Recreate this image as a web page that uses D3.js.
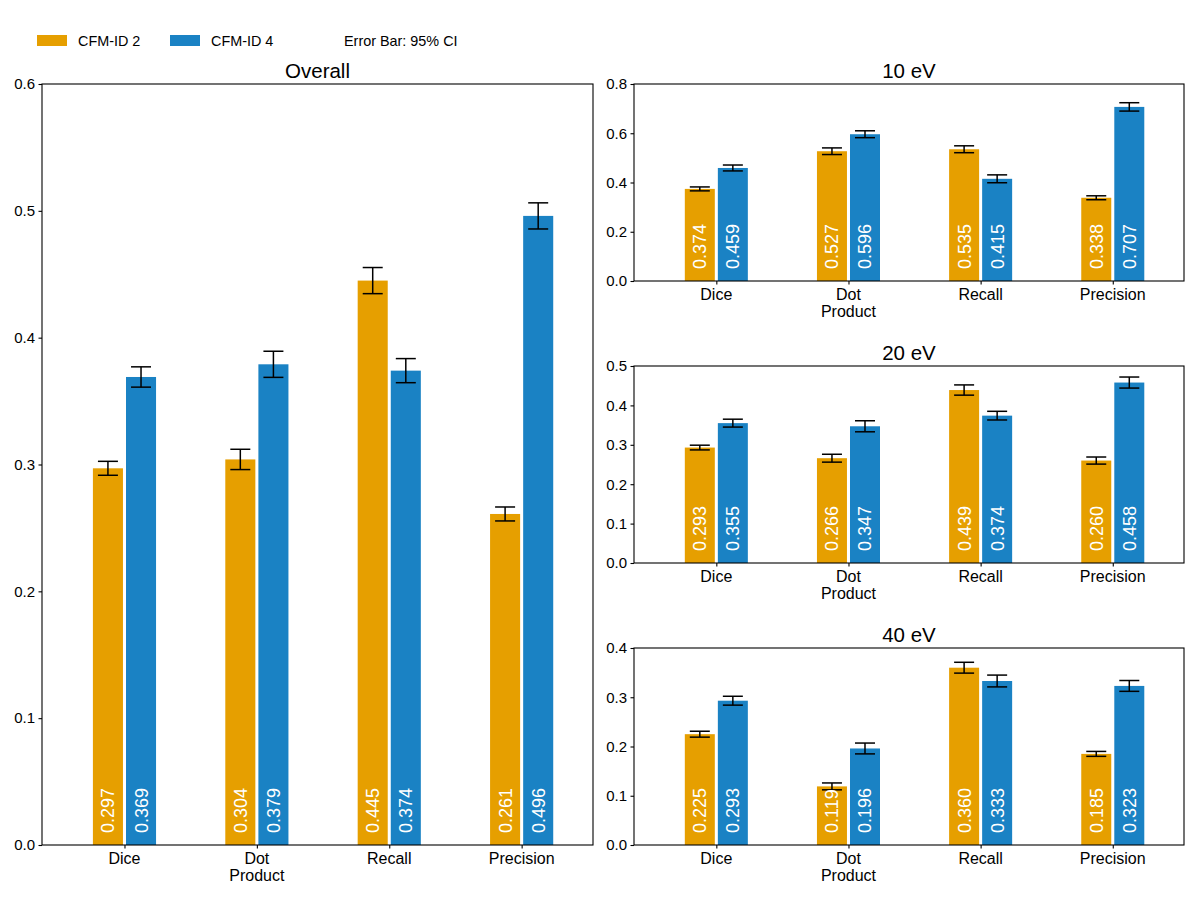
<!DOCTYPE html>
<html>
<head>
<meta charset="utf-8">
<script src="https://cdn.jsdelivr.net/npm/d3@7"></script>
<style>
  body { margin: 0; background: #fff; }
  svg { display: block; font-family: "Liberation Sans", Arial, sans-serif; }
</style>
</head>
<body>
<svg id="chart" width="1200" height="900"></svg>
<script>
// ---------------- data ----------------
const categories = [["Dice"], ["Dot", "Product"], ["Recall"], ["Precision"]];
const seriesNames = ["CFM-ID 2", "CFM-ID 4"];
const seriesColors = ["#E69F00", "#1A82C4"];
const legendNote = "Error Bar: 95% CI";

const panelTitles = ["Overall", "10 eV", "20 eV", "40 eV"];
const panelYMax = [0.6, 0.8, 0.5, 0.4];
const panelYTicks = [
  [0.0, 0.1, 0.2, 0.3, 0.4, 0.5, 0.6],
  [0.0, 0.2, 0.4, 0.6, 0.8],
  [0.0, 0.1, 0.2, 0.3, 0.4, 0.5],
  [0.0, 0.1, 0.2, 0.3, 0.4]
];

// values: [CFM-ID 2, CFM-ID 4] per panel
const overallCfm2 = [0.297, 0.304, 0.445, 0.261];
const overallCfm4 = [0.369, 0.379, 0.374, 0.496];
const ev10Cfm2 = [0.374, 0.527, 0.535, 0.338];
const ev10Cfm4 = [0.459, 0.596, 0.415, 0.707];
const ev20Cfm2 = [0.293, 0.266, 0.439, 0.260];
const ev20Cfm4 = [0.355, 0.347, 0.374, 0.458];
const ev40Cfm2 = [0.225, 0.119, 0.360, 0.185];
const ev40Cfm4 = [0.293, 0.196, 0.333, 0.323];

// 95% CI half-widths
const overallErr2 = [0.0055, 0.008, 0.0103, 0.0055];
const overallErr4 = [0.008, 0.0103, 0.0095, 0.0103];
const ev10Err2 = [0.008, 0.0135, 0.014, 0.008];
const ev10Err4 = [0.012, 0.014, 0.016, 0.017];
const ev20Err2 = [0.006, 0.010, 0.013, 0.009];
const ev20Err4 = [0.010, 0.014, 0.011, 0.014];
const ev40Err2 = [0.006, 0.007, 0.011, 0.005];
const ev40Err4 = [0.009, 0.011, 0.012, 0.011];

const panelValues = [
  [overallCfm2, overallCfm4],
  [ev10Cfm2, ev10Cfm4],
  [ev20Cfm2, ev20Cfm4],
  [ev40Cfm2, ev40Cfm4]
];
const panelErrors = [
  [overallErr2, overallErr4],
  [ev10Err2, ev10Err4],
  [ev20Err2, ev20Err4],
  [ev40Err2, ev40Err4]
];

// ---------------- layout ----------------
const panelBoxes = [
  {left: 42, right: 593, top: 84, bottom: 845},
  {left: 634, right: 1184, top: 84, bottom: 281},
  {left: 634, right: 1184, top: 366, bottom: 563},
  {left: 634, right: 1184, top: 648, bottom: 845}
];

const svg = d3.select("#chart");

const barWidth = 0.227;
const barOffset = 0.125;

panelBoxes.forEach((box, p) => {
  const g = svg.append("g");
  const x = d3.scaleLinear().domain([-0.623, 3.539]).range([box.left, box.right]);
  const y = d3.scaleLinear().domain([0, panelYMax[p]]).range([box.bottom, box.top]);

  // bars
  seriesNames.forEach((name, s) => {
    const vals = panelValues[p][s];
    const errs = panelErrors[p][s];
    const off = s === 0 ? -barOffset : barOffset;
    const bw = x(barWidth) - x(0);

    g.selectAll(null).data(vals).enter().append("rect")
      .attr("x", (d, i) => x(i + off) - bw / 2)
      .attr("y", d => y(d))
      .attr("width", bw)
      .attr("height", d => y(0) - y(d))
      .attr("fill", seriesColors[s]);

    // error bars
    const eg = g.selectAll(null).data(vals).enter().append("g")
      .attr("stroke", "#000").attr("stroke-width", 1.5).attr("fill", "none");
    eg.append("line")
      .attr("x1", (d, i) => x(i + off)).attr("x2", (d, i) => x(i + off))
      .attr("y1", (d, i) => y(d + errs[i])).attr("y2", (d, i) => y(d - errs[i]));
    eg.append("line")
      .attr("x1", (d, i) => x(i + off) - 10).attr("x2", (d, i) => x(i + off) + 10)
      .attr("y1", (d, i) => y(d + errs[i])).attr("y2", (d, i) => y(d + errs[i]));
    eg.append("line")
      .attr("x1", (d, i) => x(i + off) - 10).attr("x2", (d, i) => x(i + off) + 10)
      .attr("y1", (d, i) => y(d - errs[i])).attr("y2", (d, i) => y(d - errs[i]));

    // value labels
    g.selectAll(null).data(vals).enter().append("text")
      .attr("transform", (d, i) => `translate(${x(i + off) + 6.5},${y(0) - 12}) rotate(-90)`)
      .attr("text-anchor", "start")
      .attr("fill", "#fff")
      .attr("font-size", 18)
      .text(d => d.toFixed(3));
  });

  // y axis
  const yAxis = d3.axisLeft(y).tickValues(panelYTicks[p]).tickFormat(d3.format(".1f"))
    .tickSize(3.5).tickPadding(3.5);
  const ya = g.append("g").attr("transform", `translate(${box.left},0)`).call(yAxis);
  ya.select(".domain").remove();
  ya.selectAll("line").attr("stroke", "#000").attr("stroke-width", 1.1);
  ya.selectAll("text").attr("font-size", 15).attr("fill", "#000")
    .attr("font-family", "Liberation Sans, Arial, sans-serif");

  // x axis
  const xAxis = d3.axisBottom(x).tickValues([0, 1, 2, 3]).tickFormat("").tickSize(3.5);
  const xa = g.append("g").attr("transform", `translate(0,${box.bottom})`).call(xAxis);
  xa.select(".domain").remove();
  xa.selectAll("line").attr("stroke", "#000").attr("stroke-width", 1.1);

  // category labels
  categories.forEach((lines, i) => {
    const t = g.append("text")
      .attr("x", x(i)).attr("y", box.bottom + 18.5)
      .attr("text-anchor", "middle").attr("font-size", 16).attr("fill", "#000");
    lines.forEach((ln, k) => {
      t.append("tspan").attr("x", x(i)).attr("dy", k === 0 ? 0 : 17.6).text(ln);
    });
  });

  // frame
  g.append("rect")
    .attr("x", box.left).attr("y", box.top)
    .attr("width", box.right - box.left).attr("height", box.bottom - box.top)
    .attr("fill", "none").attr("stroke", "#000").attr("stroke-width", 1.1);

  // title
  g.append("text")
    .attr("x", (box.left + box.right) / 2).attr("y", box.top - 6)
    .attr("text-anchor", "middle").attr("font-size", 20.5).attr("fill", "#000")
    .text(panelTitles[p]);
});

// legend
const legend = svg.append("g");
const legendX = [37, 170];
seriesNames.forEach((name, s) => {
  legend.append("rect").attr("x", legendX[s]).attr("y", 35).attr("width", 30).attr("height", 11)
    .attr("fill", seriesColors[s]);
  legend.append("text").attr("x", legendX[s] + 41).attr("y", 45.5)
    .attr("font-size", 14.4).attr("fill", "#000").text(name);
});
legend.append("text").attr("x", 344).attr("y", 45.5)
  .attr("font-size", 14.4).attr("fill", "#000").text(legendNote);
</script>
</body>
</html>
